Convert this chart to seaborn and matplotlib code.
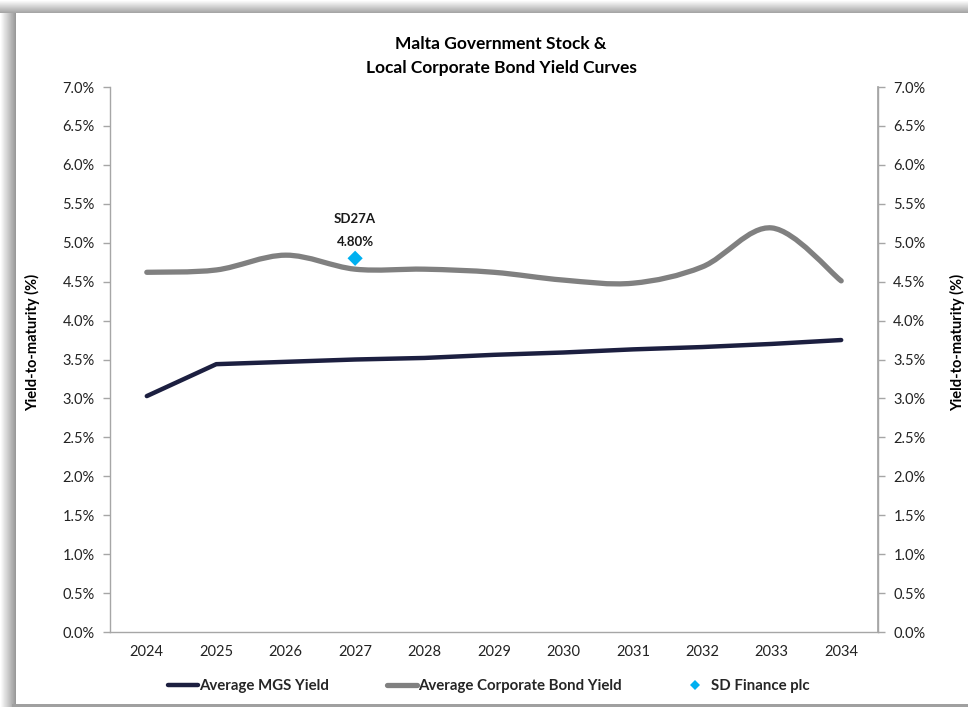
import numpy as np
import pandas as pd
import matplotlib
matplotlib.use("Agg")
import matplotlib.pyplot as plt
from matplotlib.path import Path
from matplotlib.patches import PathPatch
from matplotlib.lines import Line2D
from matplotlib.ticker import FuncFormatter, MultipleLocator
import seaborn as sns

# ---- data ----
years = [2024, 2025, 2026, 2027, 2028, 2029, 2030, 2031, 2032, 2033, 2034]
mgs_yield = [3.03, 3.44, 3.47, 3.50, 3.52, 3.56, 3.59, 3.63, 3.66, 3.70, 3.75]
corp_yield = [4.62, 4.65, 4.84, 4.66, 4.66, 4.62, 4.52, 4.48, 4.69, 5.19, 4.51]
sd_year = [2027]
sd_yield = [4.80]
sd_label = "SD27A"

title = "Malta Government Stock &\nLocal Corporate Bond Yield Curves"
ylabel = "Yield-to-maturity (%)"
legend_labels = ["Average MGS Yield", "Average Corporate Bond Yield", "SD Finance plc"]

sns.set_theme(style="white")
plt.rcParams["font.family"] = ["Lato", "DejaVu Sans"]

W, H = 968, 707
fig = plt.figure(figsize=(W / 100, H / 100), dpi=100, facecolor="white")

# background frame with shadow
bg = fig.add_axes([0, 0, 1, 1], zorder=-5)
grad_l = np.linspace(1.0, 0.6, 16)[None, :]
bg.imshow(np.repeat(grad_l, 2, axis=0), cmap="gray", vmin=0, vmax=1,
          extent=(0, 16, H, 0), aspect="auto")
grad_t = np.linspace(1.0, 0.65, 13)[:, None]
bg.imshow(np.repeat(grad_t, 2, axis=1), cmap="gray", vmin=0, vmax=1,
          extent=(0, W, 13, 0), aspect="auto")
bg.add_patch(plt.Rectangle((16, 13), W - 16, 691, facecolor="white", edgecolor="none"))
bg.add_patch(plt.Rectangle((12, 704), W, 3, facecolor="#A0A0A0", edgecolor="none"))
bg.set_xlim(0, W)
bg.set_ylim(H, 0)
bg.axis("off")

# main axes
ax = fig.add_axes([110 / W, (H - 632) / H, 768 / W, 545 / H])
ax.set_facecolor("none")

df_mgs = pd.DataFrame({"year": years, "y": mgs_yield})
df_sd = pd.DataFrame({"year": sd_year, "y": sd_yield})

navy = "#1C1F40"
grey = "#808080"
blue = "#00B0F0"
BW = "bold"

sns.lineplot(data=df_mgs, x="year", y="y", ax=ax, color=navy, linewidth=3.2,
             solid_capstyle="round", solid_joinstyle="round", legend=False, zorder=3)

# smoothed corporate curve (Catmull-Rom style Bezier, like Excel smoothed line)
xs = np.array(years, dtype=float)
ys = np.array(corp_yield, dtype=float)
verts = [(xs[0], ys[0])]
codes = [Path.MOVETO]
n = len(xs)
for i in range(n - 1):
    p0 = np.array([xs[max(i - 1, 0)], ys[max(i - 1, 0)]])
    p1 = np.array([xs[i], ys[i]])
    p2 = np.array([xs[i + 1], ys[i + 1]])
    p3 = np.array([xs[min(i + 2, n - 1)], ys[min(i + 2, n - 1)]])
    c1 = p1 + (p2 - p0) / 6.0
    c2 = p2 - (p3 - p1) / 6.0
    verts += [tuple(c1), tuple(c2), tuple(p2)]
    codes += [Path.CURVE4] * 3
ax.add_patch(PathPatch(Path(verts, codes), facecolor="none", edgecolor=grey,
                       linewidth=3.8, capstyle="round", joinstyle="round", zorder=2))

sns.scatterplot(data=df_sd, x="year", y="y", ax=ax, color=blue, marker="D",
                s=60, edgecolor="none", legend=False, zorder=4)
ax.annotate(f"{sd_yield[0]:.2f}%", (sd_year[0], sd_yield[0]), xytext=(0, 12),
            textcoords="offset points", ha="center", va="center",
            fontsize=9.5, fontweight=BW, color="#1a1a1a")
ax.annotate(sd_label, (sd_year[0], sd_yield[0]), xytext=(0, 28.5),
            textcoords="offset points", ha="center", va="center",
            fontsize=9.5, fontweight=BW, color="#1a1a1a")

ax.set_xlim(2023.47, 2034.53)
ax.set_ylim(0, 7)
ax.set_xticks(years)
ax.set_xticklabels([str(y) for y in years])
ax.yaxis.set_major_locator(MultipleLocator(0.5))
fmt = FuncFormatter(lambda v, p: f"{v:.1f}%")
ax.yaxis.set_major_formatter(fmt)
ax.set_xlabel("")
ax.set_ylabel("")

spine_c = "#A6A6A6"
for s in ["left", "bottom", "right"]:
    ax.spines[s].set_visible(True)
    ax.spines[s].set_color(spine_c)
    ax.spines[s].set_linewidth(1.0)
ax.spines["top"].set_visible(False)
ax.tick_params(axis="y", which="major", direction="out", length=5, width=1,
               color=spine_c, labelsize=10.5, labelcolor="#222222", pad=6, left=True)
ax.tick_params(axis="x", which="major", length=0, labelsize=10.5,
               labelcolor="#222222", pad=9)

ax2 = ax.twinx()
ax2.set_ylim(0, 7)
ax2.yaxis.set_major_locator(MultipleLocator(0.5))
ax2.yaxis.set_major_formatter(fmt)
for s in ["left", "bottom", "top"]:
    ax2.spines[s].set_visible(False)
ax2.spines["right"].set_color(spine_c)
ax2.tick_params(axis="y", direction="out", length=5, width=1, color=spine_c,
                labelsize=10.5, labelcolor="#222222", pad=6, right=True)
ax2.set_ylabel("")
ax2.grid(False)
ax.grid(False)

for xpix in (33, 958):
    fig.text(xpix / W, 1 - 342 / H, ylabel, rotation=90, ha="center", va="center",
             fontsize=10.5, fontweight=BW, color="black")

fig.text(501 / W, 1 - 56 / H, title, ha="center", va="center", fontsize=12.5,
         fontweight=BW, linespacing=1.55, color="black")

handles = [
    Line2D([0], [0], color=navy, lw=3.2, solid_capstyle="round"),
    Line2D([0], [0], color=grey, lw=3.8, solid_capstyle="round"),
    Line2D([0], [0], color=blue, marker="D", lw=0, markersize=5.5, markeredgewidth=0),
]
fig.legend(handles, legend_labels, loc="center", bbox_to_anchor=(489 / W, 1 - 686 / H),
           ncol=3, frameon=False, handlelength=2.0, handletextpad=0.05,
           columnspacing=3.9, prop={"weight": BW, "size": 10.8})

fig.savefig("out.png", dpi=100, facecolor="white")
